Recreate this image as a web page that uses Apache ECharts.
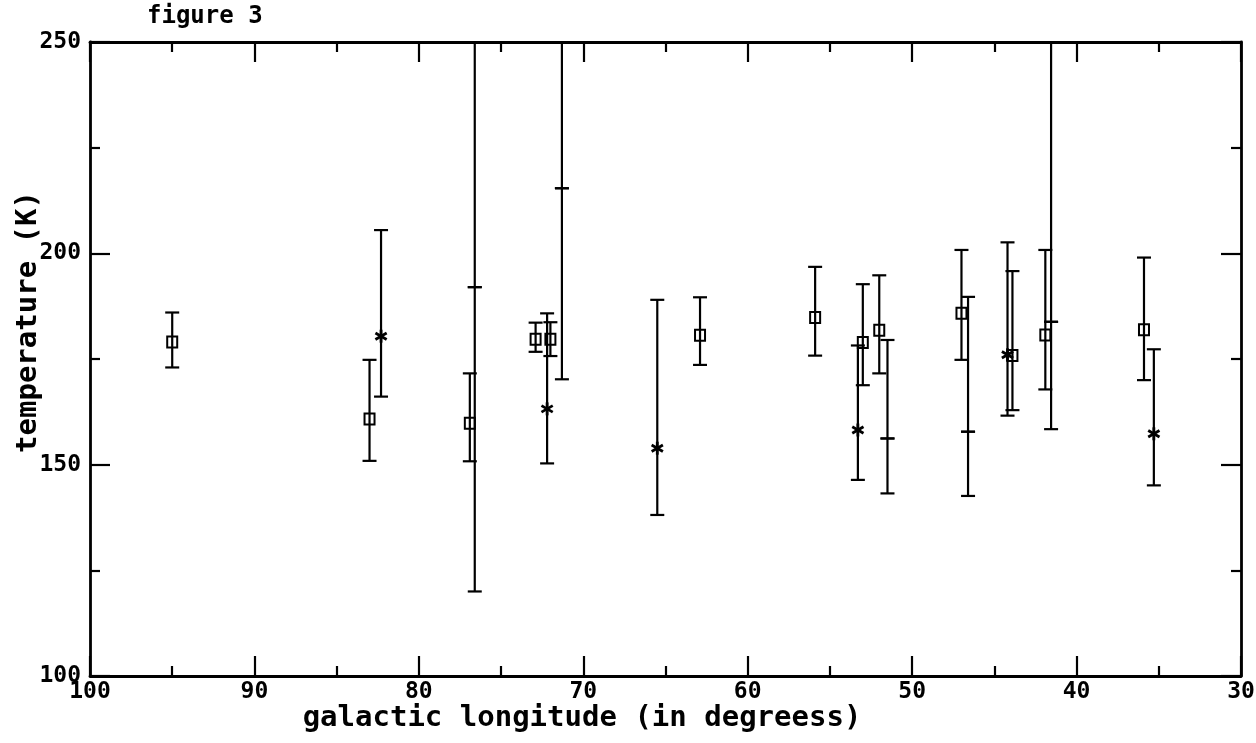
<!DOCTYPE html>
<html lang="en">
<head>
    <meta charset="UTF-8">
    <title>figure 3</title>
    <script src="https://cdn.jsdelivr.net/npm/echarts@6/dist/echarts.min.js"></script>
    <style>
        html, body { margin: 0; padding: 0; background: #fff; }
        #chart { width: 1256px; height: 743px; }
    </style>
</head>
<body>
<div id="chart"></div>
<script>
    // galactic longitude (deg), temperature (K), error bar low / high, marker shape
    // shape: 0 = bar only, 1 = square, 2 = star
    var lon   = [95.0, 83.0, 82.3, 76.9, 76.6, 76.6, 72.9, 72.0, 72.2, 71.3, 71.3, 65.5, 62.9, 55.9, 53.0,
                 53.3, 52.0, 51.5, 51.5, 47.0, 46.6, 46.6, 44.2, 43.9, 41.9, 41.55, 41.55, 35.9, 35.3];
    var temp  = [179, 160.8, 180.4, 159.8, null, null, 179.7, 179.7, 163.2, null, null, 153.9, 180.6, 184.8, 178.9,
                 158.2, 181.8, null, null, 185.8, null, null, 176, 175.8, 180.7, null, null, 181.9, 157.3];
    var low   = [173, 150.9, 166.1, 150.8, 120, 192, 176.7, 175.7, 150.3, 170.2, 215.4, 138.1, 173.6, 175.8, 168.8,
                 146.4, 171.6, 156.2, 143.2, 174.8, 157.8, 142.6, 161.6, 162.9, 167.8, 183.8, 158.4, 170, 145.1];
    var high  = [186, 174.8, 205.5, 171.6, 192, 265, 183.6, 183.7, 185.8, 215.4, 265, 189, 189.6, 196.8, 192.7,
                 178.2, 194.8, 179.5, 156.2, 200.8, 189.7, 157.8, 202.6, 195.8, 200.8, 265, 183.8, 199, 177.3];
    var shape = [1, 1, 2, 1, 0, 0, 1, 1, 2, 0, 0, 2, 1, 1, 1,
                 2, 1, 0, 0, 1, 0, 0, 2, 1, 1, 0, 0, 1, 2];

    var xTicks = [100, 90, 80, 70, 60, 50, 40, 30];
    var yTicks = [100, 150, 200, 250];

    var rows = [];
    for (var i = 0; i < lon.length; i++) {
        rows.push([lon[i], low[i], high[i], temp[i] == null ? '-' : temp[i], shape[i]]);
    }

    var FONT = 'DejaVu Sans Mono';
    var black = '#000';

    function renderBar(params, api) {
        var x = api.value(0);
        var pLow = api.coord([x, api.value(1)]);
        var pHigh = api.coord([x, api.value(2)]);
        var cw = 7;
        var ls = { stroke: black, lineWidth: 2.2 };
        var kids = [
            { type: 'line', shape: { x1: pLow[0], y1: pLow[1], x2: pHigh[0], y2: pHigh[1] }, style: ls },
            { type: 'line', shape: { x1: pLow[0] - cw, y1: pLow[1], x2: pLow[0] + cw, y2: pLow[1] }, style: ls },
            { type: 'line', shape: { x1: pHigh[0] - cw, y1: pHigh[1], x2: pHigh[0] + cw, y2: pHigh[1] }, style: ls }
        ];
        var t = api.value(3);
        var s = api.value(4);
        if (!isNaN(t) && s > 0) {
            var c = api.coord([x, t]);
            if (s === 1) {
                kids.push({ type: 'rect', shape: { x: c[0] - 5, y: c[1] - 5.5, width: 10, height: 11 },
                    style: { fill: 'none', stroke: black, lineWidth: 2 } });
            } else {
                var r = 6.5;
                for (var k = 0; k < 3; k++) {
                    var a = Math.PI / 2 + k * Math.PI / 3;
                    kids.push({ type: 'line', shape: {
                        x1: c[0] - r * Math.cos(a), y1: c[1] - r * Math.sin(a),
                        x2: c[0] + r * Math.cos(a), y2: c[1] + r * Math.sin(a) },
                        style: { stroke: black, lineWidth: 2.8 } });
                }
            }
        }
        return { type: 'group', children: kids };
    }

    function xAxisCfg(pos, labels) {
        return {
            type: 'value', position: pos, min: 30, max: 100, interval: 10, inverse: true,
            axisLine: { show: true, lineStyle: { color: black, width: 2.8 } },
            axisTick: { show: true, inside: true, length: 20, lineStyle: { color: black, width: 2.2 } },
            minorTick: { show: true, splitNumber: 2, length: 10, lineStyle: { color: black, width: 2.2 } },
            splitLine: { show: false },
            axisLabel: { show: labels, margin: 5, color: black, fontFamily: FONT, fontWeight: 'bold', fontSize: 23,
                formatter: function (v) { return xTicks.indexOf(v) >= 0 ? String(v) : ''; } }
        };
    }

    function yAxisCfg(pos, labels) {
        return {
            type: 'value', position: pos, min: 100, max: 250, interval: 50,
            axisLine: { show: true, lineStyle: { color: black, width: 2.8 } },
            axisTick: { show: true, inside: true, length: 20, lineStyle: { color: black, width: 2.2 } },
            minorTick: { show: true, splitNumber: 2, length: 10, lineStyle: { color: black, width: 2.2 } },
            splitLine: { show: false },
            axisLabel: { show: labels, margin: 9, color: black, fontFamily: FONT, fontWeight: 'bold', fontSize: 23,
                formatter: function (v) { return yTicks.indexOf(v) >= 0 ? String(v) : ''; } }
        };
    }

    var chart = echarts.init(document.getElementById('chart'));
    var option = {
        backgroundColor: '#fff',
        animation: false,
        grid: { left: 90, right: 15, top: 42, bottom: 67, outerBoundsMode: 'none' },
        xAxis: [xAxisCfg('bottom', true), xAxisCfg('top', false)],
        yAxis: [yAxisCfg('left', true), yAxisCfg('right', false)],
        graphic: [
            { type: 'text', x: 147, y: 5, style: { text: 'figure 3', fill: black,
                font: 'bold 24px "' + FONT + '"' } },
            { type: 'text', x: 582, y: 718, style: { text: 'galactic longitude (in degreess)', fill: black,
                textAlign: 'center', textVerticalAlign: 'middle', font: 'bold 29px "' + FONT + '"' } },
            { type: 'text', x: 28, y: 322, rotation: Math.PI / 2, style: { text: 'temperature (K)', fill: black,
                textAlign: 'center', textVerticalAlign: 'middle', font: 'bold 29px "' + FONT + '"' } }
        ],
        series: [{
            type: 'custom',
            xAxisIndex: 0,
            yAxisIndex: 0,
            clip: true,
            renderItem: renderBar,
            encode: { x: 0, y: [1, 2] },
            data: rows
        }]
    };
    chart.setOption(option);
</script>
</body>
</html>
